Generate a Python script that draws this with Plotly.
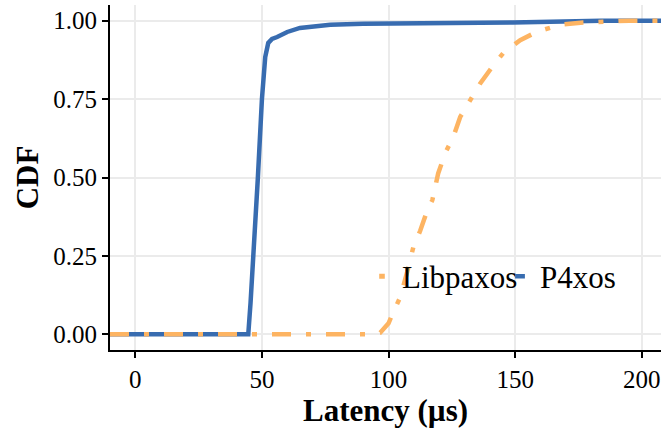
import plotly.graph_objects as go

# Latency CDF read at selected quantiles (µs); the end points pad the curves to the panel edges
p4xos_latency = [-10, 44.6, 45.5, 46.6, 47.6, 48.4, 50.0, 51.3, 52.5, 54.0, 56.0, 60.0, 65.0, 77.0, 90.0, 120.0, 149.0, 184.0, 210]
p4xos_cdf     = [0.0, 0.0, 0.10, 0.278, 0.386, 0.50, 0.75, 0.884, 0.929, 0.942, 0.948, 0.964, 0.977, 0.987, 0.990, 0.992, 0.994, 1.0, 1.0]

libpaxos_latency = [-10, 94.0, 96.7, 100.0, 101.5, 104.6, 107.4, 109.8, 112.5, 114.9, 117.3, 119.6, 122.4, 125.6, 128.3,
                    132.3, 136.2, 140.9, 145.3, 152.0, 158.7, 167.8, 176.9, 195.0, 210]
libpaxos_cdf     = [0.0, 0.0, 0.005, 0.035, 0.064, 0.118, 0.20, 0.278, 0.33, 0.386, 0.428, 0.513, 0.578, 0.63, 0.693,
                    0.747, 0.80, 0.852, 0.897, 0.938, 0.965, 0.987, 0.994, 1.0, 1.0]

x_ticks = [0, 50, 100, 150, 200]
y_ticks = [0.0, 0.25, 0.50, 0.75, 1.00]
y_tick_labels = ["0.00", "0.25", "0.50", "0.75", "1.00"]

ORANGE = "#FDB462"
BLUE = "#386CB0"
FONT = "Liberation Serif"

fig = go.Figure()

# P4xos: solid line underneath
fig.add_trace(go.Scatter(
    x=p4xos_latency, y=p4xos_cdf, mode="lines", name="P4xos",
    line=dict(color=BLUE, width=4.5), showlegend=False,
))
# Libpaxos: two-dash line on top
fig.add_trace(go.Scatter(
    x=libpaxos_latency, y=libpaxos_cdf, mode="lines", name="Libpaxos",
    line=dict(color=ORANGE, width=4.5, dash="19px,15px,5px,15px"), showlegend=False,
))

# Compact legend keys
fig.add_trace(go.Scatter(
    x=[None], y=[None], mode="markers", name="Libpaxos",
    marker=dict(symbol="line-ew", size=4, line=dict(color=ORANGE, width=5)),
))
fig.add_trace(go.Scatter(
    x=[None], y=[None], mode="markers", name="P4xos",
    marker=dict(symbol="line-ew", size=7, line=dict(color=BLUE, width=4.5)),
))

axis_common = dict(
    showline=True, linecolor="black", linewidth=2,
    ticks="outside", ticklen=6, tickwidth=2, tickcolor="black",
    showgrid=True, gridcolor="#EBEBEB", gridwidth=2,
    zeroline=False,
    tickfont=dict(family=FONT, size=25, color="black"),
)

fig.update_xaxes(
    range=[-10, 207.6], tickvals=x_ticks, ticktext=[str(v) for v in x_ticks],
    title=dict(text="<b>Latency (µs)</b>", font=dict(family=FONT, size=31, color="black"), standoff=7),
    **axis_common,
)
fig.update_yaxes(
    range=[-0.05, 1.05], tickvals=y_ticks, ticktext=y_tick_labels,
    title=dict(text="<b>CDF</b>", font=dict(family=FONT, size=31, color="black"), standoff=5),
    **axis_common,
)

fig.update_layout(
    width=661, height=428,
    margin=dict(l=110, r=0, t=5, b=78, autoexpand=False),
    plot_bgcolor="white", paper_bgcolor="white",
    legend=dict(
        orientation="h", x=(362 - 110) / 551, y=0.213, xanchor="left", yanchor="middle",
        font=dict(family=FONT, size=31, color="black"),
        bgcolor="rgba(0,0,0,0)", itemwidth=30,
        entrywidth=93, entrywidthmode="pixels",
    ),
)

fig.write_html("out.html")
